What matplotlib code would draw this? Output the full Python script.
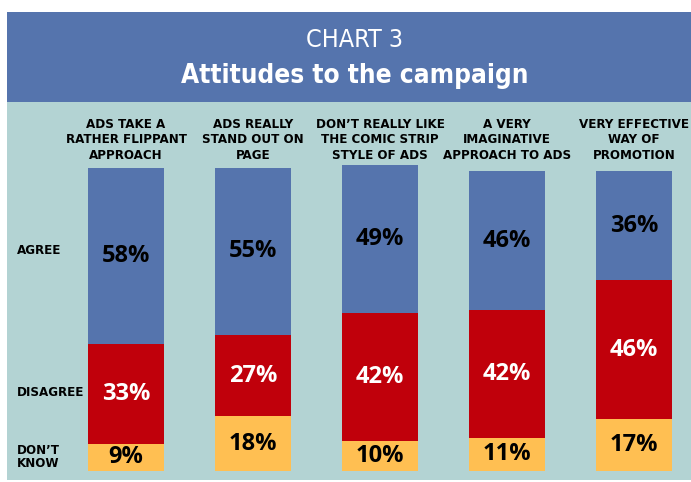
import matplotlib.pyplot as plt
from matplotlib.patches import Rectangle

# Chart data
categories = ["ADS TAKE A\nRATHER FLIPPANT\nAPPROACH",
              "ADS REALLY\nSTAND OUT ON\nPAGE",
              "DON\u2019T REALLY LIKE\nTHE COMIC STRIP\nSTYLE OF ADS",
              "A VERY\nIMAGINATIVE\nAPPROACH TO ADS",
              "VERY EFFECTIVE\nWAY OF\nPROMOTION"]
agree = [58, 55, 49, 46, 36]
disagree = [33, 27, 42, 42, 46]
dont_know = [9, 18, 10, 11, 17]
row_labels = ["AGREE", "DISAGREE", "DON\u2019T\nKNOW"]

BLUE = "#5574ad"
RED = "#c0000b"
ORANGE = "#ffbf52"
TEAL = "#b3d3d3"

W, H = 691, 482
fig = plt.figure(figsize=(W / 100, H / 100), dpi=100)
fig.patch.set_facecolor("white")

def fx(px):
    return px / W

def fy(py):
    return 1 - py / H

# header band and panel background (behind the axes)
fig.add_artist(Rectangle((fx(7), fy(102)), fx(691 - 7), (102 - 12) / H,
                         transform=fig.transFigure, facecolor=BLUE, edgecolor="none",
                         zorder=-2))
fig.add_artist(Rectangle((fx(7), fy(480)), fx(691 - 7), (480 - 102) / H,
                         transform=fig.transFigure, facecolor=TEAL, edgecolor="none",
                         zorder=-2))

cond = dict(family="DejaVu Sans", fontstretch="condensed")
fig.text(fx(355), fy(47), "CHART 3", ha="center", va="baseline", color="white",
         fontsize=18, fontweight="light", **cond)
fig.text(fx(355), fy(83), "Attitudes to the campaign", ha="center", va="baseline",
         color="white", fontsize=18.8, fontweight="bold", **cond)

# axes covering the teal panel; y in percent, x in bar index
ax = fig.add_axes([fx(7), fy(480), fx(691 - 7), (480 - 102) / H])
ax.set_facecolor("none")
ppu = 303 / 100
ax.set_ylim(-(480 - 471) / ppu, (471 - 102) / ppu)
ax.set_xlim(-(126 - 7) / 127, (691 - 126) / 127)
ax.axis("off")

x = list(range(len(categories)))
width = 76 / 127
bottoms_red = dont_know
bottoms_blue = [a + b for a, b in zip(dont_know, disagree)]
ax.bar(x, dont_know, width, color=ORANGE)
ax.bar(x, disagree, width, bottom=bottoms_red, color=RED)
ax.bar(x, agree, width, bottom=bottoms_blue, color=BLUE)

pct_font = ["Open Sans", "DejaVu Sans"]
for i in x:
    ax.text(i, dont_know[i] / 2, f"{dont_know[i]}%", ha="center", va="center",
            fontsize=17, fontweight="bold", color="black", family=pct_font)
    ax.text(i, bottoms_red[i] + disagree[i] / 2, f"{disagree[i]}%", ha="center",
            va="center", fontsize=17, fontweight="bold", color="white", family=pct_font)
    ax.text(i, bottoms_blue[i] + agree[i] / 2, f"{agree[i]}%", ha="center",
            va="center", fontsize=17, fontweight="bold", color="black", family=pct_font)
    ax.text(i, (471 - 139.5) / ppu, categories[i], ha="center", va="center",
            fontsize=9.5, fontweight="bold", color="black", linespacing=1.25, **cond)

# row labels on the left
row_y = [(471 - 250) / ppu, (471 - 392) / ppu, (471 - 457) / ppu]
for lab, yy in zip(row_labels, row_y):
    ax.text((17 - 126) / 127, yy, lab, ha="left", va="center", fontsize=9.5,
            fontweight="bold", color="black", linespacing=0.95, **cond)

fig.savefig("out.png", dpi=100)
